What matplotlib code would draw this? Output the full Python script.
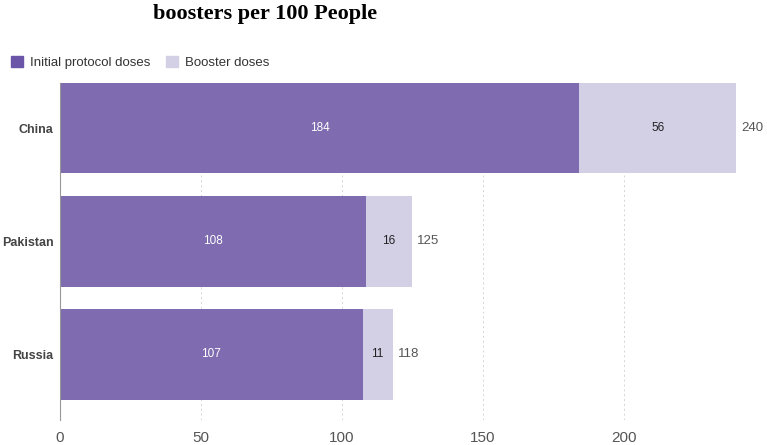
import matplotlib
matplotlib.use("Agg")
import matplotlib.pyplot as plt
from matplotlib.patches import Patch

countries = ["China", "Pakistan", "Russia"]
initial = [184.2, 108.4, 107.3]
booster = [55.6, 16.4, 10.7]
xticks = [0, 50, 100, 150, 200]

C_INIT = "#7f6bb0"
C_BOOST = "#d3d0e6"

plt.rcParams["font.family"] = ["Liberation Sans", "DejaVu Sans"]

fig = plt.figure(figsize=(7.67, 4.45), dpi=100)
ax = fig.add_axes([0.0782, 0.0562, 0.919, 0.7573])

y = list(range(len(countries)))
ax.barh(y, initial, height=0.8, color=C_INIT, zorder=2)
ax.barh(y, booster, left=initial, height=0.8, color=C_BOOST, zorder=2)

for i, (a, b) in enumerate(zip(initial, booster)):
    ax.text(a / 2, i, f"{round(a)}", ha="center", va="center", color="white", fontsize=8.5, zorder=3)
    ax.text(a + b / 2, i, f"{round(b)}", ha="center", va="center", color="#222222", fontsize=8.5, zorder=3)
    ax.text(a + b + 1.8, i, f"{round(a + b)}", ha="left", va="center", color="#555555", fontsize=9.5, zorder=3)

ax.set_ylim(2.58, -0.4)
ax.set_xlim(0, 250)
ax.set_yticks(y)
ax.set_yticklabels(countries, fontsize=9, fontweight="bold", color="#444444")
ax.set_xticks(xticks)
ax.set_xticklabels([str(t) for t in xticks], fontsize=11, color="#555555")
ax.tick_params(axis="both", length=0)
ax.tick_params(axis="x", pad=8)
ax.tick_params(axis="y", pad=4.5)

for s in ["top", "right", "bottom"]:
    ax.spines[s].set_visible(False)
ax.spines["left"].set_color("#999999")
ax.spines["left"].set_linewidth(0.8)
ax.xaxis.grid(True, ls=(0, (2, 3)), color="#d4d4d4", lw=0.7, zorder=1)
ax.set_axisbelow(True)

fig.text(0.345, 0.968, "boosters per 100 People", ha="center", va="center",
         fontsize=16, fontweight="bold", family=["Liberation Serif", "DejaVu Serif"])

handles = [Patch(color="#6a55a8", label="Initial protocol doses"),
           Patch(color=C_BOOST, label="Booster doses")]
fig.legend(handles=handles, loc="center left", bbox_to_anchor=(0.008, 0.86), ncol=2,
           frameon=False, fontsize=9.5, handlelength=0.9, handleheight=1.0,
           handletextpad=0.5, columnspacing=1.2, borderaxespad=0.0,
           labelcolor="#333333")

fig.savefig("out.png", dpi=100)
